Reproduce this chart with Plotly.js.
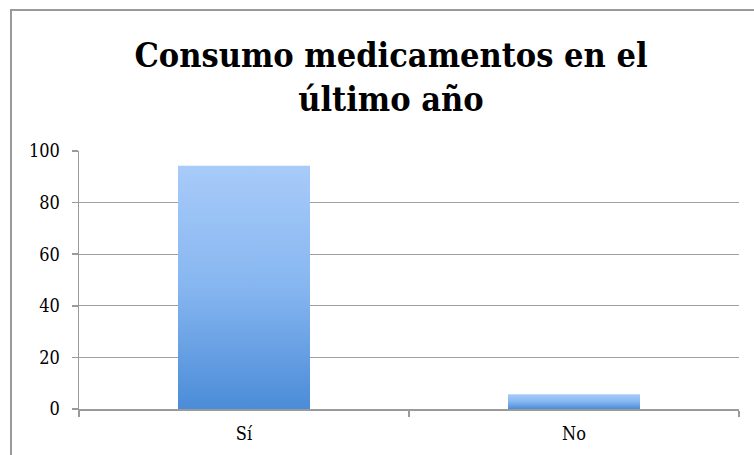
<!DOCTYPE html>
<html>
<head>
<meta charset="utf-8">
<script src="https://cdn.plot.ly/plotly-3.0.1.min.js"></script>
<style>
html,body{margin:0;padding:0;background:#fff;}
#wrap{position:relative;width:754px;height:455px;overflow:hidden;}
#chart{position:absolute;left:0;top:0;width:754px;height:455px;}
#frame{position:absolute;left:10px;top:9px;width:800px;height:500px;border-left:2px solid #9a9a9a;border-top:2px solid #9a9a9a;pointer-events:none;}
</style>
</head>
<body>
<div id="wrap"><div id="chart"></div><div id="frame"></div></div>
<script>
const categories = ["Sí", "No"];
const values = [94.3, 5.7];
const yTicks = [0, 20, 40, 60, 80, 100];
const titleText = "Consumo medicamentos en el<br>último año";

const serif = "'DejaVu Serif Condensed', 'DejaVu Serif', serif";

const trace = {
  type: "bar",
  x: categories,
  y: values,
  width: 0.4,
  marker: { color: "#7aaeeb", line: { width: 0 } },
  hoverinfo: "none"
};

const layout = {
  width: 754,
  height: 455,
  margin: { l: 79, r: 15, t: 151, b: 46 },
  paper_bgcolor: "#ffffff",
  plot_bgcolor: "#ffffff",
  showlegend: false,
  title: {
    text: titleText,
    font: { family: serif, size: 34, color: "#000", weight: "bold" },
    x: 391 / 754, xanchor: "center",
    y: 1 - 67 / 455, yanchor: "top", yref: "container"
  },
  xaxis: {
    type: "category",
    tickson: "boundaries",
    ticks: "outside",
    ticklen: 6,
    tickcolor: "#9a9a9a",
    tickwidth: 1.5,
    showline: true,
    linecolor: "#9a9a9a",
    linewidth: 1.5,
    showgrid: false,
    ticklabelstandoff: 8,
    tickfont: { family: serif, size: 18, color: "#000" },
    fixedrange: true
  },
  yaxis: {
    range: [0, 100],
    tickvals: yTicks,
    ticktext: yTicks.map(String),
    ticks: "outside",
    ticklen: 6,
    tickcolor: "#9a9a9a",
    tickwidth: 1.5,
    showline: true,
    linecolor: "#9a9a9a",
    linewidth: 1.5,
    showgrid: true,
    gridcolor: "#a0a0a0",
    gridwidth: 1.3,
    zeroline: false,
    ticklabelstandoff: 8,
    tickfont: { family: serif, size: 18, color: "#000" },
    fixedrange: true
  },
  bargap: 0.6
};

Plotly.newPlot("chart", [trace], layout, { staticPlot: true, displayModeBar: false }).then(function (gd) {
  const svg = gd.querySelector("svg.main-svg");
  const ns = "http://www.w3.org/2000/svg";
  let defs = svg.querySelector("defs");
  if (!defs) { defs = document.createElementNS(ns, "defs"); svg.insertBefore(defs, svg.firstChild); }
  const grad = document.createElementNS(ns, "linearGradient");
  grad.setAttribute("id", "barGrad");
  grad.setAttribute("x1", "0"); grad.setAttribute("y1", "0");
  grad.setAttribute("x2", "0"); grad.setAttribute("y2", "1");
  [["0", "#a8cbf9"], ["0.5", "#86b6f0"], ["1", "#4b8cd8"]].forEach(function (s) {
    const st = document.createElementNS(ns, "stop");
    st.setAttribute("offset", s[0]);
    st.setAttribute("stop-color", s[1]);
    grad.appendChild(st);
  });
  defs.appendChild(grad);
  gd.querySelectorAll(".trace.bars .point path").forEach(function (p) {
    p.style.fill = "url(#barGrad)";
  });
});
</script>
</body>
</html>
